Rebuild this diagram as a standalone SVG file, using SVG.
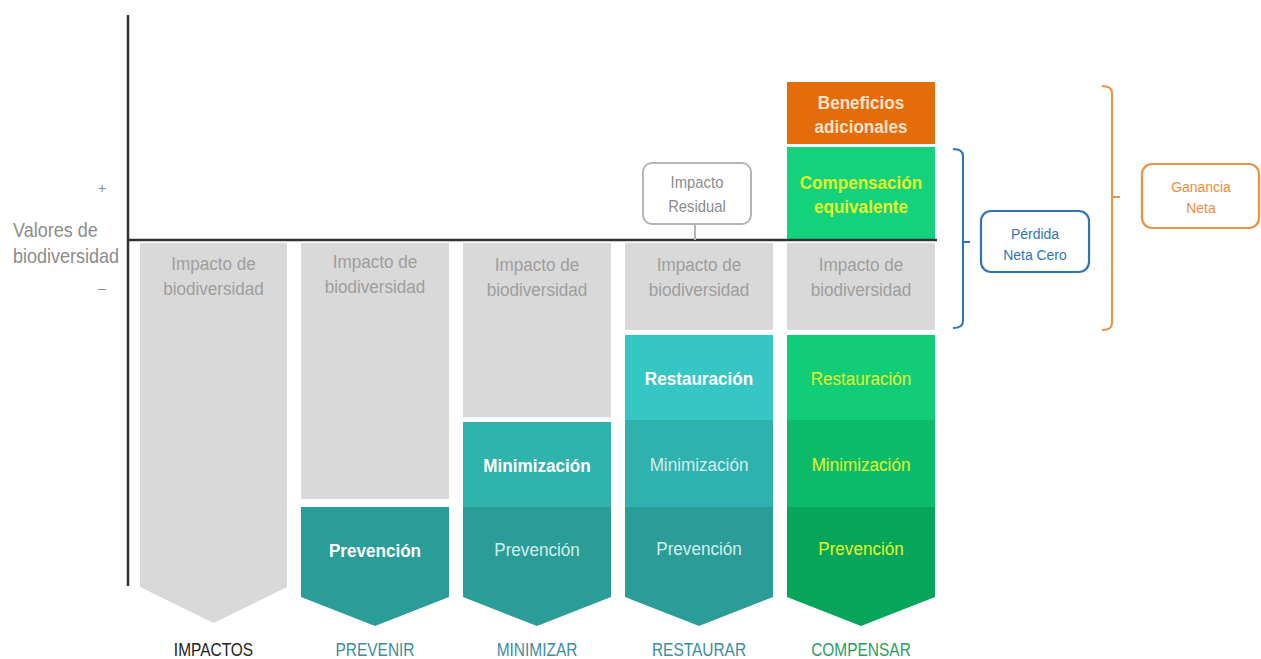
<svg xmlns="http://www.w3.org/2000/svg" width="1261" height="659" viewBox="0 0 1261 659">
  <style>
    text { font-family: "Liberation Sans", Arial, sans-serif; text-anchor: middle; }
    .imp { font-size: 19px; fill: #9e9e9e; }
    .gray { fill: #d9d9d9; }
    .wb { font-size: 19px; font-weight: bold; fill: #ffffff; }
    .wl { font-size: 19px; fill: #d2efee; }
    .yl { font-size: 19px; fill: #e2f52a; }
    .yb { font-size: 19px; font-weight: bold; fill: #e2f52a; }
    .ob { font-size: 19px; font-weight: bold; fill: #fde3c8; }
    .axis { stroke: #333333; stroke-width: 2.5; fill: none; }
    .side { font-size: 20px; fill: #8c8c8c; text-anchor: start; }
    .sign { font-size: 14px; fill: #8c8c8c; }
    .cap { font-size: 18px; }
    .call { font-size: 16.5px; fill: #8c8c8c; }
    .bt { font-size: 15.5px; fill: #2e75b6; }
    .ot { font-size: 15.5px; fill: #ef8b3a; }
    .blue { stroke: #2e75b6; stroke-width: 2; fill: none; }
    .orange { stroke: #f0913f; stroke-width: 2; fill: none; }
  </style>

  <!-- axes -->
  <g id="axes">
    <line class="axis" x1="128" y1="15" x2="128" y2="586"/>
    <text class="side" transform="translate(13 237) scale(0.9 1)">Valores de</text>
    <text class="side" transform="translate(13 263) scale(0.9 1)">biodiversidad</text>
    <text class="sign" x="102" y="193">+</text>
    <text class="sign" x="102" y="293">–</text>
  </g>

  <!-- IMPACTOS -->
  <g id="col-impactos">
    <path class="gray" d="M140 243 H287 V587 L213.5 623 L140 587 Z"/>
    <text class="imp" transform="translate(213.5 270) scale(0.9 1)">Impacto de</text>
    <text class="imp" transform="translate(213.5 295) scale(0.9 1)">biodiversidad</text>
    <text class="cap" transform="translate(213.5 656) scale(0.86 1)" fill="#222222">IMPACTOS</text>
  </g>

  <!-- PREVENIR -->
  <g id="col-prevenir">
    <rect class="gray" x="301" y="243" width="148" height="256"/>
    <text class="imp" transform="translate(375 268) scale(0.9 1)">Impacto de</text>
    <text class="imp" transform="translate(375 293) scale(0.9 1)">biodiversidad</text>
    <path d="M301 507 H449 V597 L375 626 L301 597 Z" fill="#2a9d98"/>
    <text class="wb" transform="translate(375 557) scale(0.9 1)">Prevención</text>
    <text class="cap" transform="translate(375 656) scale(0.86 1)" fill="#3c8d9e">PREVENIR</text>
  </g>

  <!-- MINIMIZAR -->
  <g id="col-minimizar">
    <rect class="gray" x="463" y="243" width="148" height="174"/>
    <text class="imp" transform="translate(537 271) scale(0.9 1)">Impacto de</text>
    <text class="imp" transform="translate(537 296) scale(0.9 1)">biodiversidad</text>
    <rect x="463" y="422" width="148" height="86" fill="#30b2ad"/>
    <path d="M463 507 H611 V597 L537 626 L463 597 Z" fill="#2a9d98"/>
    <text class="wb" transform="translate(537 472) scale(0.9 1)">Minimización</text>
    <text class="wl" transform="translate(537 556) scale(0.9 1)">Prevención</text>
    <text class="cap" transform="translate(537 656) scale(0.86 1)" fill="#3c8d9e">MINIMIZAR</text>
  </g>

  <!-- RESTAURAR -->
  <g id="col-restaurar">
    <rect class="gray" x="625" y="243" width="148" height="87"/>
    <text class="imp" transform="translate(699 271) scale(0.9 1)">Impacto de</text>
    <text class="imp" transform="translate(699 296) scale(0.9 1)">biodiversidad</text>
    <rect x="625" y="335" width="148" height="86" fill="#36c6c3"/>
    <rect x="625" y="420" width="148" height="88" fill="#2fb1ad"/>
    <path d="M625 507 H773 V597 L699 626 L625 597 Z" fill="#2a9d98"/>
    <text class="wb" transform="translate(699 385) scale(0.9 1)">Restauración</text>
    <text class="wl" transform="translate(699 471) scale(0.9 1)">Minimización</text>
    <text class="wl" transform="translate(699 555) scale(0.9 1)">Prevención</text>
    <text class="cap" transform="translate(699 656) scale(0.86 1)" fill="#3c8d9e">RESTAURAR</text>
  </g>

  <!-- COMPENSAR -->
  <g id="col-compensar">
    <rect x="787" y="82" width="148" height="62" fill="#e46c0a"/>
    <text class="ob" transform="translate(861 109) scale(0.9 1)">Beneficios</text>
    <text class="ob" transform="translate(861 133) scale(0.9 1)">adicionales</text>
    <rect x="787" y="147" width="148" height="93" fill="#14d27c"/>
    <text class="yb" transform="translate(861 189) scale(0.9 1)">Compensación</text>
    <text class="yb" transform="translate(861 213) scale(0.9 1)">equivalente</text>
    <rect class="gray" x="787" y="243" width="148" height="87"/>
    <text class="imp" transform="translate(861 271) scale(0.9 1)">Impacto de</text>
    <text class="imp" transform="translate(861 296) scale(0.9 1)">biodiversidad</text>
    <rect x="787" y="335" width="148" height="86" fill="#12cd78"/>
    <rect x="787" y="420" width="148" height="88" fill="#0bbb69"/>
    <path d="M787 507 H935 V597 L861 626 L787 597 Z" fill="#05a65a"/>
    <text class="yl" transform="translate(861 385) scale(0.9 1)">Restauración</text>
    <text class="yl" transform="translate(861 471) scale(0.9 1)">Minimización</text>
    <text class="yl" transform="translate(861 555) scale(0.9 1)">Prevención</text>
    <text class="cap" transform="translate(861 656) scale(0.86 1)" fill="#2a9d64">COMPENSAR</text>
  </g>

  <!-- zero line drawn over the columns -->
  <line class="axis" x1="128" y1="240" x2="937" y2="240"/>

  <!-- residual impact callout -->
  <g id="impacto-residual">
    <rect x="643" y="163" width="108" height="61" rx="9" fill="#ffffff" stroke="#b5b5b5" stroke-width="2"/>
    <text class="call" transform="translate(697 188) scale(0.9 1)">Impacto</text>
    <text class="call" transform="translate(697 212) scale(0.9 1)">Residual</text>
  </g>

  <!-- connectors: callout stem and brackets -->
  <g id="connectors">
    <line x1="695" y1="224" x2="695" y2="240" stroke="#b5b5b5" stroke-width="2"/>
    <path class="blue" d="M953 149 Q963 149 963 156 V321 Q963 328 953 328 M963 242 H970"/>
    <path class="orange" d="M1102 86 Q1112 86 1112 93 V323 Q1112 330 1102 330 M1112 197 H1120"/>
  </g>

  <g id="perdida-neta-cero">
    <rect x="981" y="211" width="108" height="61" rx="10" fill="#ffffff" stroke="#2e75b6" stroke-width="2.2"/>
    <text class="bt" transform="translate(1035 239) scale(0.9 1)">Pérdida</text>
    <text class="bt" transform="translate(1035 260) scale(0.9 1)">Neta Cero</text>
  </g>

  <g id="ganancia-neta">
    <rect x="1142" y="164" width="117" height="64" rx="10" fill="#ffffff" stroke="#f0913f" stroke-width="2.2"/>
    <text class="ot" transform="translate(1201 192) scale(0.9 1)">Ganancia</text>
    <text class="ot" transform="translate(1201 213) scale(0.9 1)">Neta</text>
  </g>
</svg>
